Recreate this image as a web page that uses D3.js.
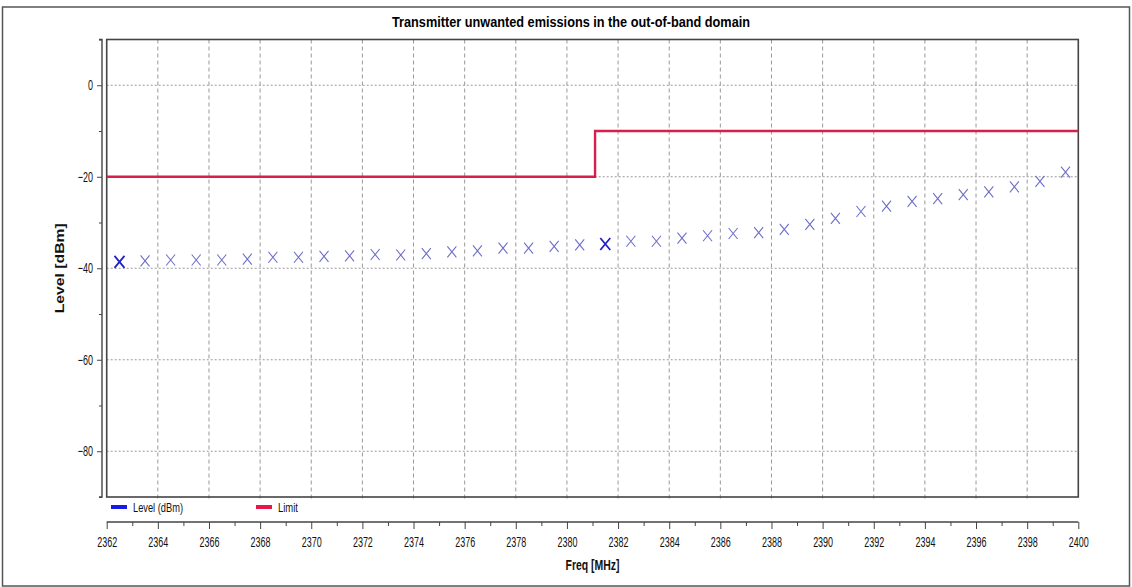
<!DOCTYPE html>
<html>
<head>
<meta charset="utf-8">
<script src="https://cdn.jsdelivr.net/npm/d3@7"></script>
<style>
  html, body { margin: 0; padding: 0; background: #ffffff; }
  svg { display: block; font-family: "Liberation Sans", Arial, sans-serif; }
</style>
</head>
<body>
<svg id="chart" width="1132" height="587"></svg>
<script>
// ---- data ----
const freqs = [2362.5, 2363.5, 2364.5, 2365.5, 2366.5, 2367.5, 2368.5, 2369.5, 2370.5, 2371.5,
               2372.5, 2373.5, 2374.5, 2375.5, 2376.5, 2377.5, 2378.5, 2379.5, 2380.5, 2381.5,
               2382.5, 2383.5, 2384.5, 2385.5, 2386.5, 2387.5, 2388.5, 2389.5, 2390.5, 2391.5,
               2392.5, 2393.5, 2394.5, 2395.5, 2396.5, 2397.5, 2398.5, 2399.5];
const levels = [-38.6, -38.4, -38.2, -38.2, -38.2, -38.0, -37.6, -37.6, -37.4, -37.3,
                -37.0, -37.1, -36.8, -36.4, -36.2, -35.6, -35.6, -35.2, -34.9, -34.7,
                -34.1, -34.1, -33.4, -32.9, -32.4, -32.2, -31.5, -30.4, -29.1, -27.6,
                -26.4, -25.4, -24.8, -23.9, -23.3, -22.2, -21.0, -19.0];
const highlighted = [2362.5, 2381.5];
const limitFreq = [2362, 2381.1, 2381.1, 2400];
const limitLevel = [-20, -20, -10, -10];
const xTicks = [2362, 2364, 2366, 2368, 2370, 2372, 2374, 2376, 2378, 2380, 2382, 2384, 2386, 2388, 2390, 2392, 2394, 2396, 2398, 2400];
const yTicks = [0, -20, -40, -60, -80];
const legendNames = ["Level (dBm)", "Limit"];
const title = "Transmitter unwanted emissions in the out-of-band domain";

// ---- layout ----
const svg = d3.select("#chart");
const L = 106.7, R = 1078.3, T = 39.5, B = 497;
const x = d3.scaleLinear().domain([2362, 2400]).range([L, R]);
const y = d3.scaleLinear().domain([-90, 10]).range([B, T]);

// outer frame
svg.append("rect").attr("x", 2.5).attr("y", 7).attr("width", 1127).attr("height", 579)
  .attr("fill", "none").attr("stroke", "#555").attr("stroke-width", 1.5);

// title
svg.append("text").attr("x", 571).attr("y", 27).attr("text-anchor", "middle")
  .attr("font-weight", "bold").attr("font-size", 15)
  .attr("textLength", 358).attr("lengthAdjust", "spacingAndGlyphs")
  .attr("fill", "#000").text(title);

// grid
const grid = svg.append("g");
grid.selectAll("line.v").data(xTicks.filter(d => d > 2362 && d < 2400)).enter().append("line")
  .attr("x1", d => x(d)).attr("x2", d => x(d)).attr("y1", T).attr("y2", B + 2)
  .attr("stroke", "#999").attr("stroke-width", 1).attr("stroke-dasharray", "4,3");
grid.selectAll("line.h").data(yTicks).enter().append("line")
  .attr("x1", L).attr("x2", R).attr("y1", d => y(d)).attr("y2", d => y(d))
  .attr("stroke", "#999").attr("stroke-width", 1).attr("stroke-dasharray", "2,2");

// plot frame
svg.append("rect").attr("x", L).attr("y", T).attr("width", R - L).attr("height", B - T)
  .attr("fill", "none").attr("stroke", "#444").attr("stroke-width", 1.6);

// limit line
const limitData = limitFreq.map((f, i) => [f, limitLevel[i]]);
svg.append("path").datum(limitData)
  .attr("d", d3.line().x(d => x(d[0])).y(d => y(d[1])))
  .attr("fill", "none").attr("stroke", "#d81e4a").attr("stroke-width", 2.4);

// markers
const pts = freqs.map((f, i) => ({f, v: levels[i], hi: highlighted.includes(f)}));
const mk = svg.append("g");
mk.selectAll("path").data(pts).enter().append("path")
  .attr("transform", d => `translate(${x(d.f)},${y(d.v)})`)
  .attr("d", d => d.hi ? "M-5,-6L5,6M5,-6L-5,6" : "M-4.5,-5.5L4.5,5.5M4.5,-5.5L-4.5,5.5")
  .attr("fill", "none")
  .attr("stroke", d => d.hi ? "#2222cc" : "#6e6ec8")
  .attr("stroke-width", d => d.hi ? 1.8 : 1.1);

// y axis (separate line)
const yAxis = svg.append("g").attr("transform", "translate(102,0)")
  .call(d3.axisLeft(y).tickValues(yTicks).tickSize(5).tickPadding(6).tickFormat(d3.format("d")));
yAxis.select(".domain").attr("stroke", "#444").attr("stroke-width", 1.4).attr("d", `M-3,${T}H0V${B}H-3`);
yAxis.selectAll(".tick line").attr("stroke", "#444");
yAxis.selectAll(".tick text").attr("font-size", 14.5).attr("fill", "#111")
  .attr("font-family", "Liberation Sans, Arial, sans-serif")
  .attr("transform", "scale(0.62,1)").attr("x", -9 / 0.62);
svg.append("g").attr("transform", "translate(102,0)")
  .call(d3.axisLeft(y).tickValues([-90, -70, -50, -30, -10, 10]).tickSize(3).tickFormat(""))
  .call(g => g.select(".domain").remove())
  .selectAll("line").attr("stroke", "#444");

// x axis (separate line below legend)
const xAxisY = 522;
const xAxis = svg.append("g").attr("transform", `translate(0,${xAxisY})`)
  .call(d3.axisBottom(x).tickValues(xTicks).tickSize(7).tickPadding(6).tickFormat(d3.format("d")));
xAxis.select(".domain").attr("stroke", "#444").attr("stroke-width", 1.4).attr("d", `M${L},0H${R}`);
xAxis.selectAll(".tick line").attr("stroke", "#444");
xAxis.selectAll(".tick text").attr("font-size", 14.5).attr("fill", "#111")
  .attr("font-family", "Liberation Sans, Arial, sans-serif")
  .attr("transform", "scale(0.62,1)").attr("dy", 0).attr("y", 25.5);
svg.append("g").attr("transform", `translate(0,${xAxisY})`)
  .call(d3.axisBottom(x).tickValues(d3.range(2363, 2400, 2)).tickSize(4).tickFormat(""))
  .call(g => g.select(".domain").remove())
  .selectAll("line").attr("stroke", "#444");

// axis titles
svg.append("text").attr("x", (L + R) / 2).attr("y", 570).attr("text-anchor", "middle")
  .attr("font-weight", "bold").attr("font-size", 14.5)
  .attr("textLength", 54).attr("lengthAdjust", "spacingAndGlyphs")
  .attr("fill", "#111").text("Freq [MHz]");
svg.append("text").attr("transform", `translate(64,${(T + B) / 2}) rotate(-90)`)
  .attr("text-anchor", "middle").attr("font-weight", "bold").attr("font-size", 13)
  .attr("textLength", 90).attr("lengthAdjust", "spacingAndGlyphs")
  .attr("fill", "#111").text("Level [dBm]");

// legend
const legColors = ["#1a1ae6", "#e8174a"];
const legX = [111, 256];
const legW = [50, 20];
const leg = svg.append("g");
legendNames.forEach((name, i) => {
  leg.append("rect").attr("x", legX[i]).attr("y", 505).attr("width", 16).attr("height", 4)
    .attr("fill", legColors[i]);
  leg.append("text").attr("x", legX[i] + 22).attr("y", 511.5).attr("font-size", 13)
    .attr("textLength", legW[i]).attr("lengthAdjust", "spacingAndGlyphs")
    .attr("fill", "#111").text(name);
});
</script>
</body>
</html>
